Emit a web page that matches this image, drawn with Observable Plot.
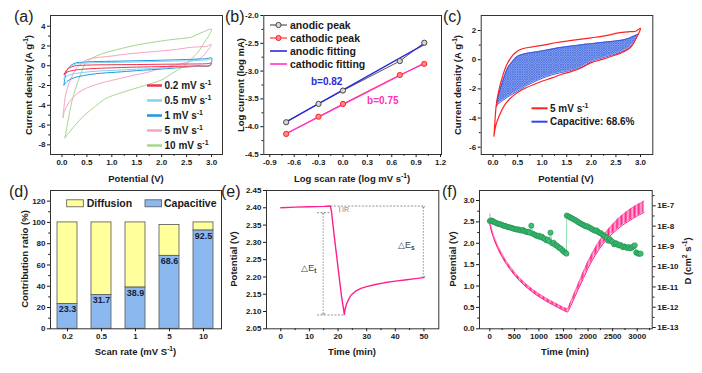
<!DOCTYPE html>
<html>
<head>
<meta charset="utf-8">
<script src="https://cdn.jsdelivr.net/npm/d3@7"></script>
<script src="https://cdn.jsdelivr.net/npm/@observablehq/plot@0.6"></script>
<style>
html,body{margin:0;padding:0;background:#fff;}
#root{position:relative;width:702px;height:373px;overflow:hidden;background:#fff;}
#root svg{position:absolute;}
</style>
</head>
<body>
<svg width="0" height="0" style="position:absolute;left:0;top:0">
<defs>
<pattern id="hatchBlue" patternUnits="userSpaceOnUse" width="2.4" height="2.4">
<rect width="2.4" height="2.4" fill="#8aa6f2"/>
<path d="M0,2.4 L2.4,0 M0,0 L2.4,2.4" stroke="#4064d8" stroke-width="0.6"/>
</pattern>
<pattern id="stripesPink" patternUnits="userSpaceOnUse" width="1.3" height="8">
<rect width="0.85" height="8" fill="#ff1f86"/>
</pattern>
</defs>
</svg>
<div id="root"></div>
<script>
const FONT = "'Liberation Sans', Arial, Helvetica, sans-serif";
const root = document.getElementById("root");

// ================= DATA =================
// (a) CV loops: potential (V) / current density (A g-1)
const aNames = ["0.2 mV s", "0.5 mV s", "1 mV s", "5 mV s", "10 mV s"];
const aColors = ["#f2334d", "#80d3f6", "#1b98e0", "#f8a3c6", "#a5d78c"];
const cvLowV = [0.04,0.1,0.23,0.5,1.0,1.5,2.0,2.5,2.9,3.0, 2.97,2.7,2.1,1.5,1.1,0.7,0.43,0.2,0.1,0.04];
const cv02J = [-0.9,-0.4,-0.05,0.06,0.1,0.12,0.15,0.17,0.2,0.25, 0.03,-0.02,-0.08,-0.14,-0.2,-0.27,-0.35,-0.5,-0.65,-0.9];
const cv05J = [-1.35,-0.45,0.1,0.28,0.33,0.38,0.44,0.5,0.58,0.62, 0.02,-0.05,-0.2,-0.35,-0.45,-0.55,-0.68,-0.85,-1.05,-1.35];
const cv1J  = [-1.95,-0.5,0.2,0.38,0.45,0.5,0.56,0.63,0.72,0.78, 0.05,-0.05,-0.3,-0.5,-0.65,-0.8,-1.0,-1.3,-1.6,-1.95];
const cv5V = [0.02,0.04,0.06,0.1,0.18,0.28,0.4,0.5,0.6,0.8,1.0,1.3,1.6,2.0,2.3,2.55,2.8,2.9,3.0, 2.9,2.8,2.6,2.4,2.2,2.0,1.8,1.6,1.4,1.2,0.9,0.6,0.4,0.25,0.12,0.05,0.02];
const cv5J = [-5.25,-4.2,-3.3,-2.4,-1.3,-0.35,0.3,0.6,0.75,0.88,0.98,1.18,1.32,1.5,1.65,1.84,1.92,1.95,2.15, 1.4,0.85,0.45,0.22,0.0,-0.2,-0.55,-0.8,-1.0,-1.25,-1.6,-2.05,-2.5,-3.05,-3.9,-4.6,-5.25];
const cv10V = [0.06,0.12,0.2,0.28,0.38,0.48,0.6,0.8,1.0,1.2,1.45,1.8,2.13,2.4,2.6,2.73,2.85,3.0, 2.93,2.86,2.73,2.6,2.46,2.2,1.99,1.66,1.4,1.12,0.85,0.65,0.45,0.32,0.15,0.06];
const cv10J = [-7.3,-5.6,-3.6,-2.2,-0.8,0.3,0.75,1.2,1.5,1.75,2.05,2.35,2.6,2.75,2.9,3.2,3.45,3.7, 2.9,2.38,1.37,0.7,0.02,-0.8,-1.45,-2.0,-2.4,-2.84,-3.4,-4.2,-5.0,-5.7,-6.7,-7.3];
const aXTicks = [0,0.5,1,1.5,2,2.5,3];
const aXMinor = [0.25,0.75,1.25,1.75,2.25,2.75];
const aYTicks = [-8,-6,-4,-2,0,2,4];
const aYMinor = [-7,-5,-3,-1,1,3];

// (b) log current vs log scan rate
const bLogRate = [-0.699,-0.301,0,0.699,1.0];
const bAnodic = [-3.92,-3.59,-3.35,-2.82,-2.49];
const bCathodic = [-4.13,-3.82,-3.59,-3.07,-2.87];
const bFitX = [-0.7,1.0];
const bAnodicFit = [-3.914,-2.52];
const bCathodicFit = [-4.125,-2.855];
const bNoteX = [-0.2,0.49];
const bNoteY = [-3.19,-3.53];
const bNoteText = ["b=0.82","b=0.75"];
const bXTicks = [-0.9,-0.6,-0.3,0,0.3,0.6,0.9,1.2];
const bXMinor = [-0.75,-0.45,-0.15,0.15,0.45,0.75,1.05];
const bYTicks = [-4.5,-4.0,-3.5,-3.0,-2.5,-2.0];
const bYMinor = [-4.25,-3.75,-3.25,-2.75,-2.25];

// (c) capacitive region (same 5 mV s-1 CV)
const capV  = [0.07,0.1,0.2,0.3,0.4,0.5,0.7,0.9,1.1,1.3,1.5,1.7,1.8,1.9,2.0,2.2,2.4,2.6,2.75,2.85,2.95];
const capUp = [-3.2,-2.6,-1.45,-0.55,-0.1,0.24,0.45,0.55,0.67,0.8,0.9,0.98,1.02,1.07,1.1,1.18,1.25,1.33,1.45,1.6,1.75];
const capLo = [-3.2,-3.05,-2.8,-2.55,-2.35,-2.15,-1.75,-1.42,-1.15,-0.95,-0.8,-0.62,-0.5,-0.32,-0.12,0.1,0.3,0.52,0.78,1.1,1.75];
const cYTicks = [-6,-4,-2,0,2];
const cYMinor = [-5,-3,-1,1];

// (d) contribution ratio
const dRates = ["0.2","0.5","1","5","10"];
const dCapacitive = [23.3,31.7,38.9,68.6,92.5];
const dTotal = [100,100,100,97.6,100];
const dYTicks = [0,20,40,60,80,100,120];
const dYMinor = [10,30,50,70,90,110];

// (e) GITT single step
const eTime = [0,5,10,15,17.3,17.7,18.3,19.2,20.2,21.2,22.2,22.5,22.9,23.5,24.5,26,28,30,33,36,40,44,47,50];
const eVolt = [2.400,2.402,2.403,2.404,2.405,2.390,2.345,2.282,2.213,2.145,2.092,2.108,2.12,2.132,2.147,2.158,2.167,2.172,2.178,2.183,2.188,2.192,2.195,2.198];
const eGuideH = [{x1:17.5,x2:50,y:2.405},{x1:12.8,x2:17.4,y:2.386},{x1:12.8,x2:22.3,y:2.09}];
const eGuideV = [{x:14.8,y1:2.384,y2:2.093},{x:49.8,y1:2.402,y2:2.2}];
const eGuideIR = [{x:20.6,y1:2.404,y2:2.387}];
const eLabels = [{x:11.7,y:2.225,main:"\u25B3E",sub:"t"},{x:45.5,y:2.292,main:"\u25B3E",sub:"s"}];
const eIR = [{x:21.4,y:2.394,t:"IR"}];
const eXTicks = [0,10,20,30,40,50];
const eXMinor = [5,15,25,35,45];
const eYTicks = [2.05,2.10,2.15,2.20,2.25,2.30,2.35,2.40,2.45];

// (f) GITT full: potential envelope (pulse band) and diffusion coefficient
const fTime = [0,10,30,60,100,150,200,300,400,500,600,700,800,900,1000,1100,1200,1300,1400,1500,1580,1600,1650,1700,1800,1900,2000,2100,2200,2300,2400,2500,2600,2700,2800,2900,3000,3100,3140];
const fHigh = [2.69,2.5,2.38,2.25,2.12,1.98,1.86,1.65,1.48,1.33,1.2,1.09,0.99,0.9,0.82,0.75,0.68,0.62,0.56,0.5,0.47,0.5,0.64,0.78,1.05,1.32,1.58,1.8,2.0,2.17,2.31,2.44,2.56,2.66,2.75,2.83,2.9,2.96,2.99];
const fLow  = [2.45,2.40,2.30,2.18,2.05,1.91,1.79,1.58,1.41,1.26,1.13,1.02,0.92,0.83,0.75,0.68,0.61,0.55,0.49,0.43,0.39,0.42,0.54,0.67,0.92,1.17,1.42,1.63,1.82,1.98,2.11,2.23,2.33,2.42,2.5,2.57,2.64,2.7,2.72];
const fDTime = [0,25,50,75,100,130,160,190,220,250,280,310,340,370,400,430,460,490,520,550,580,610,640,670,700,730,760,790,820,845,880,910,940,970,1000,1030,1060,1090,1120,1150,1180,1210,1235,1270,1300,1330,1360,1390,1420,1450,1480,1510,1540,1560,
  1565,1600,1630,1660,1690,1720,1750,1780,1810,1840,1870,1900,1930,1960,1990,2020,2050,2080,2110,2140,2170,2200,2230,2260,2290,2320,2350,2380,2410,2440,2470,2500,2530,2560,2590,2620,2650,2680,2710,2740,2770,2800,2830,2860,2890,2920,2950,2980,3010,3040,3070];
const fDLog = [-7.75,-7.72,-7.74,-7.78,-7.82,-7.84,-7.88,-7.90,-7.91,-7.95,-7.98,-7.99,-8.02,-8.05,-8.06,-8.08,-8.10,-8.13,-8.15,-8.17,-8.16,-8.20,-8.22,-8.19,-8.24,-8.27,-8.30,-8.28,-8.33,-7.98,-8.38,-8.42,-8.46,-8.50,-8.47,-8.55,-8.52,-8.60,-8.63,-8.70,-8.67,-8.75,-8.32,-8.85,-8.82,-8.92,-8.96,-9.02,-9.08,-9.12,-9.20,-9.27,-9.32,-9.36,
  -7.48,-7.52,-7.56,-7.60,-7.64,-7.68,-7.72,-7.77,-7.82,-7.86,-7.90,-7.94,-7.98,-8.02,-8.01,-8.07,-8.10,-8.15,-8.19,-8.23,-8.21,-8.28,-8.33,-8.35,-8.42,-8.47,-8.52,-8.58,-8.72,-8.64,-8.74,-8.78,-8.90,-8.84,-8.88,-8.95,-8.92,-8.98,-9.04,-9.00,-9.05,-9.08,-9.03,-9.10,-9.06,-9.00,-8.95,-9.30,-9.35,-9.37,-9.36];
const fXTicks = [0,500,1000,1500,2000,2500,3000];
const fXMinor = [250,750,1250,1750,2250,2750,3250];
const fYTicks = [0,0.5,1.0,1.5,2.0,2.5,3.0];
const fYMinor = [0.25,0.75,1.25,1.75,2.25,2.75];
const fDTickLogs = [-13,-12,-11,-10,-9,-8,-7];
const fDMinorLogs = [-12.5,-11.5,-10.5,-9.5,-8.5,-7.5,-6.5];
const fVTop = 3.234, fLogBottom = -13.064, fLogTop = -6.245;
const toV = (lg) => (lg - fLogBottom) / (fLogTop - fLogBottom) * fVTop;
const fromV = (v) => v / fVTop * (fLogTop - fLogBottom) + fLogBottom;

// ================= HELPERS =================
function place(el, left, top) {
  el.style.position = "absolute";
  el.style.left = left + "px";
  el.style.top = top + "px";
  el.style.overflow = "visible";
  el.style.background = "transparent";
  el.style.maxWidth = "none";
  root.appendChild(el);
}
const baseStyle = {fontFamily: FONT, fontSize: "8px", fontWeight: "bold", color: "#1a1a1a", background: "transparent", overflow: "visible"};
const xMaj = (t, f) => Plot.axisX(t, {tickSize: 3, tickPadding: 2, tickFormat: f, label: null});
const xMin = (t) => Plot.axisX(t, {tickSize: 1.8, tickFormat: () => "", label: null});
const yMaj = (t, f) => Plot.axisY(t, {anchor: "left", tickSize: 3, tickPadding: 2, tickFormat: f, label: null});
const yMin = (t) => Plot.axisY(t, {anchor: "left", tickSize: 1.8, tickFormat: () => "", label: null});
const pts = (xs, ys) => xs.map((x, i) => ({x, y: ys[i]}));
const fmt1 = d => d.toFixed(1);
const frame = () => Plot.frame({stroke: "#333", strokeWidth: 1});

// ================= (a) =================
const aLoops = [
  {V: cv10V, J: cv10J, c: aColors[4]},
  {V: cv5V, J: cv5J, c: aColors[3]},
  {V: cvLowV, J: cv1J, c: aColors[2]},
  {V: cvLowV, J: cv05J, c: aColors[1]},
  {V: cvLowV, J: cv02J, c: aColors[0]}
];
place(Plot.plot({
  width: 230, height: 180, marginLeft: 50, marginRight: 8, marginTop: 15, marginBottom: 26,
  x: {domain: [-0.23, 3.22]}, y: {domain: [-8.98, 5.08]},
  style: baseStyle,
  marks: [
    ...aLoops.map(L => Plot.line(pts(L.V, L.J), {x: "x", y: "y", stroke: L.c, strokeWidth: 1, curve: "catmull-rom"})),
    frame(),
    xMaj(aXTicks, fmt1), xMin(aXMinor),
    yMaj(aYTicks, d => String(d)), yMin(aYMinor)
  ]
}), 0, 0);

// ================= (b) =================
place(Plot.plot({
  width: 230, height: 180, marginLeft: 33.3, marginRight: 19, marginTop: 15, marginBottom: 26,
  x: {domain: [-0.974, 1.212]}, y: {domain: [-4.5, -2.0]},
  style: baseStyle,
  marks: [
    Plot.line(pts(bLogRate, bAnodic), {x: "x", y: "y", stroke: "#555", strokeWidth: 1}),
    Plot.line(pts(bLogRate, bCathodic), {x: "x", y: "y", stroke: "#ff3333", strokeWidth: 1}),
    Plot.line(pts(bFitX, bAnodicFit), {x: "x", y: "y", stroke: "#2a2ad8", strokeWidth: 1.3}),
    Plot.line(pts(bFitX, bCathodicFit), {x: "x", y: "y", stroke: "#ff33cc", strokeWidth: 1.3}),
    Plot.dot(pts(bLogRate, bAnodic), {x: "x", y: "y", r: 2.6, fill: "#d8d8d8", stroke: "#444", strokeWidth: 1}),
    Plot.dot(pts(bLogRate, bCathodic), {x: "x", y: "y", r: 2.6, fill: "#ff8a8a", stroke: "#ff2020", strokeWidth: 1}),
    Plot.text([0], {x: () => bNoteX[0], y: () => bNoteY[0], text: () => bNoteText[0], fill: "#2a2ad8", fontSize: 10, fontWeight: "bold"}),
    Plot.text([1], {x: () => bNoteX[1], y: () => bNoteY[1], text: () => bNoteText[1], fill: "#ff33bb", fontSize: 10, fontWeight: "bold"}),
    frame(),
    xMaj(bXTicks, fmt1), xMin(bXMinor),
    yMaj(bYTicks, fmt1), yMin(bYMinor)
  ]
}), 230, 0);

// ================= (c) =================
const capRows = capV.map((v, i) => ({v, lo: capLo[i], up: capUp[i]}));
place(Plot.plot({
  width: 242, height: 180, marginLeft: 20.7, marginRight: 49.7, marginTop: 15, marginBottom: 26,
  x: {domain: [-0.24, 3.25]}, y: {domain: [-6.5, 3.03]},
  style: baseStyle,
  marks: [
    Plot.areaY(capRows, {x: "v", y1: "lo", y2: "up", fill: "url(#hatchBlue)", curve: "catmull-rom"}),
    Plot.line(capRows, {x: "v", y: "up", stroke: "#2f4de0", strokeWidth: 0.9, curve: "catmull-rom"}),
    Plot.line(capRows, {x: "v", y: "lo", stroke: "#2f4de0", strokeWidth: 0.9, curve: "catmull-rom"}),
    Plot.line(pts(cv5V, cv5J), {x: "x", y: "y", stroke: "#ff2020", strokeWidth: 1.2, curve: "catmull-rom"}),
    frame(),
    xMaj(aXTicks, fmt1), xMin(aXMinor),
    yMaj(cYTicks, d => String(d)), yMin(cYMinor)
  ]
}), 460, 0);

// ================= (d) =================
const dRows = dRates.map((r, i) => ({r, cap: dCapacitive[i], tot: dTotal[i]}));
place(Plot.plot({
  width: 230, height: 193, marginLeft: 50, marginRight: 9, marginTop: 10, marginBottom: 44.7,
  x: {type: "band", domain: dRates, paddingInner: 0.41, paddingOuter: 0.2},
  y: {domain: [0, 130]},
  style: baseStyle,
  marks: [
    Plot.barY(dRows, {x: "r", y1: 0, y2: "cap", fill: "#8cb8f0", stroke: "#555", strokeWidth: 0.8}),
    Plot.barY(dRows, {x: "r", y1: "cap", y2: "tot", fill: "#ffff9c", stroke: "#555", strokeWidth: 0.8}),
    Plot.text(dRows, {x: "r", y: "cap", text: d => d.cap.toFixed(1), lineAnchor: "top", dy: 2, fontSize: 9, fontWeight: "bold", fill: "#16223a"}),
    frame(),
    Plot.axisX(dRates, {tickSize: 3, tickPadding: 2, label: null}),
    yMaj(dYTicks, d => String(d)), yMin(dYMinor)
  ]
}), 0, 180);

// ================= (e) =================
place(Plot.plot({
  width: 230, height: 193, marginLeft: 36, marginRight: 21.7, marginTop: 10, marginBottom: 44.7,
  x: {domain: [-5, 55.2]}, y: {domain: [2.05, 2.45]},
  style: baseStyle,
  marks: [
    Plot.ruleY(eGuideH, {y: "y", x1: "x1", x2: "x2", stroke: "#777", strokeWidth: 0.8, strokeDasharray: "2,1.5"}),
    Plot.link(eGuideV, {x1: "x", x2: "x", y1: "y1", y2: "y2", stroke: "#777", strokeWidth: 0.8, strokeDasharray: "1.5,1.5", markerStart: "arrow", markerEnd: "arrow"}),
    Plot.link(eGuideIR, {x1: "x", x2: "x", y1: "y1", y2: "y2", stroke: "#888", strokeWidth: 0.8}),
    Plot.line(pts(eTime, eVolt), {x: "x", y: "y", stroke: "#ff1f8f", strokeWidth: 1.4}),
    Plot.text(eLabels, {x: "x", y: "y", text: d => d.main, textAnchor: "end", fontSize: 9, fontWeight: "normal", fill: "#444"}),
    Plot.text(eLabels, {x: "x", y: "y", text: d => d.sub, textAnchor: "start", dy: 3, fontSize: 6.5, fontWeight: "bold", fill: "#444"}),
    Plot.text(eIR, {x: "x", y: "y", text: d => d.t, textAnchor: "start", fontSize: 7, fontWeight: "normal", fill: "#888"}),
    frame(),
    xMaj(eXTicks, d => String(d)), xMin(eXMinor),
    yMaj(eYTicks, d => d.toFixed(2))
  ]
}), 230, 180);

// ================= (f) =================
const fRows = fTime.map((t, i) => ({t, hi: fHigh[i], lo: fLow[i]}));
const fDRows = fDTime.map((t, i) => ({t, v: toV(fDLog[i])}));
place(Plot.plot({
  width: 242, height: 193, marginLeft: 19, marginRight: 50.3, marginTop: 10, marginBottom: 44.7,
  x: {domain: [-210, 3305]}, y: {domain: [0, fVTop]},
  style: baseStyle,
  marks: [
    Plot.areaY(fRows, {x: "t", y1: "lo", y2: "hi", fill: "url(#stripesPink)"}),
    Plot.line(fRows, {x: "t", y: "lo", stroke: "#ff1f86", strokeWidth: 1}),
    Plot.line(fRows, {x: "t", y: "hi", stroke: "#ff4a9e", strokeWidth: 0.6}),
    Plot.line(fDRows, {x: "t", y: "v", stroke: "#6fd4a0", strokeWidth: 0.8}),
    Plot.dot(fDRows, {x: "t", y: "v", r: 2.6, fill: "#3cbf74", stroke: "#1f8a4c", strokeWidth: 0.6}),
    frame(),
    xMaj(fXTicks, d => String(d)), xMin(fXMinor),
    yMaj(fYTicks, fmt1), yMin(fYMinor),
    Plot.axisY(fDTickLogs.map(toV), {anchor: "right", tickSize: 3, tickPadding: 2, tickFormat: v => "1E" + Math.round(fromV(v)), label: null}),
    Plot.axisY(fDMinorLogs.map(toV).filter(v => v <= fVTop), {anchor: "right", tickSize: 1.8, tickFormat: () => "", label: null})
  ]
}), 460, 180);

// ================= OVERLAY: panel letters, axis titles, legends =================
const ov = d3.select(root).append("svg")
  .attr("width", 702).attr("height", 373)
  .style("left", "0px").style("top", "0px").style("pointer-events", "none")
  .attr("font-family", FONT);

function addText(x, y, parts, o = {}) {
  const size = o.size || 9.5;
  const t = ov.append("text").attr("x", x).attr("y", y)
    .attr("font-size", size).attr("font-weight", o.weight || "bold")
    .attr("text-anchor", o.anchor || "start").attr("fill", o.fill || "#1a1a1a");
  if (o.rotate) t.attr("transform", `rotate(${o.rotate},${x},${y})`);
  let shift = 0;
  for (const p of parts) {
    if (typeof p === "string") {
      const s = t.append("tspan").text(p);
      if (shift) { s.attr("dy", -shift); shift = 0; }
    } else {
      const d = -size * 0.38;
      t.append("tspan").text(p.t).attr("font-size", size * 0.7).attr("dy", d);
      shift = d;
    }
  }
  return t;
}
const sup = (t) => ({t, sup: true});

// panel letters
[["(a)", 14, 21.5], ["(b)", 225, 21.5], ["(c)", 443, 21.5], ["(d)", 9, 196.5], ["(e)", 221, 196.5], ["(f)", 442, 196.5]]
  .forEach(([s, x, y]) => addText(x, y, [s], {size: 16, weight: "normal", fill: "#222"}));

// axis titles
addText(136, 181.5, ["Potential (V)"], {anchor: "middle"});
addText(32, 85, ["Current density (A g", sup("-1"), ")"], {anchor: "middle", rotate: -90});
addText(352, 181.5, ["Log scan rate (log mV s", sup("-1"), ")"], {anchor: "middle"});
addText(243.5, 85, ["Log current (log mA)"], {anchor: "middle", rotate: -90});
addText(566, 181.5, ["Potential (V)"], {anchor: "middle"});
addText(460.5, 85, ["Current density (A g", sup("-1"), ")"], {anchor: "middle", rotate: -90});
addText(135.5, 355, ["Scan rate (mV S", sup("-1"), ")"], {anchor: "middle"});
addText(27.5, 259, ["Contribution ratio (%)"], {anchor: "middle", rotate: -90});
addText(352, 355, ["Time (min)"], {anchor: "middle"});
addText(236.5, 259, ["Potential (V)"], {anchor: "middle", rotate: -90});
addText(565, 355, ["Time (min)"], {anchor: "middle"});
addText(455.5, 259, ["Potential (V)"], {anchor: "middle", rotate: -90});
addText(690.5, 261, ["D (cm", sup("2"), " s", sup("-1"), ")"], {anchor: "middle", rotate: -90});

// legend (a)
aNames.forEach((n, i) => {
  const y = 85.5 + 15 * i;
  ov.append("line").attr("x1", 147).attr("x2", 162).attr("y1", y).attr("y2", y)
    .attr("stroke", aColors[i]).attr("stroke-width", 2.5);
  addText(164.5, y + 3.6, [n, sup("-1")], {size: 10});
});

// legend (b)
const bLeg = [
  {n: "anodic peak", c: "#555", mf: "#d8d8d8", ms: "#444"},
  {n: "cathodic peak", c: "#ff3333", mf: "#ff8a8a", ms: "#ff2020"},
  {n: "anodic fitting", c: "#2a2ad8"},
  {n: "cathodic fitting", c: "#ff33cc"}
];
bLeg.forEach((L, i) => {
  const y = 25 + 13 * i;
  ov.append("line").attr("x1", 270).attr("x2", 287).attr("y1", y).attr("y2", y)
    .attr("stroke", L.c).attr("stroke-width", L.mf ? 1.2 : 1.6);
  if (L.mf) ov.append("circle").attr("cx", 278.5).attr("cy", y).attr("r", 2.6)
    .attr("fill", L.mf).attr("stroke", L.ms).attr("stroke-width", 1);
  addText(290, y + 3.7, [L.n], {size: 10.5});
});

// legend (c)
ov.append("line").attr("x1", 531.5).attr("x2", 547.5).attr("y1", 108.3).attr("y2", 108.3).attr("stroke", "#ff2020").attr("stroke-width", 2);
addText(550, 112, ["5 mV s", sup("-1")], {size: 10});
ov.append("line").attr("x1", 531.5).attr("x2", 547.5).attr("y1", 121.7).attr("y2", 121.7).attr("stroke", "#3046ee").attr("stroke-width", 2);
addText(550, 125.4, ["Capacitive: 68.6%"], {size: 10});

// legend (d)
ov.append("rect").attr("x", 66.7).attr("y", 199.8).attr("width", 16.6).attr("height", 7).attr("fill", "#ffff9c").attr("stroke", "#555").attr("stroke-width", 0.8);
addText(86.7, 207, ["Diffusion"], {size: 10.5});
ov.append("rect").attr("x", 145).attr("y", 199.8).attr("width", 16.6).attr("height", 7).attr("fill", "#8cb8f0").attr("stroke", "#555").attr("stroke-width", 0.8);
addText(164, 207, ["Capacitive"], {size: 10.5});
</script>
</body>
</html>
